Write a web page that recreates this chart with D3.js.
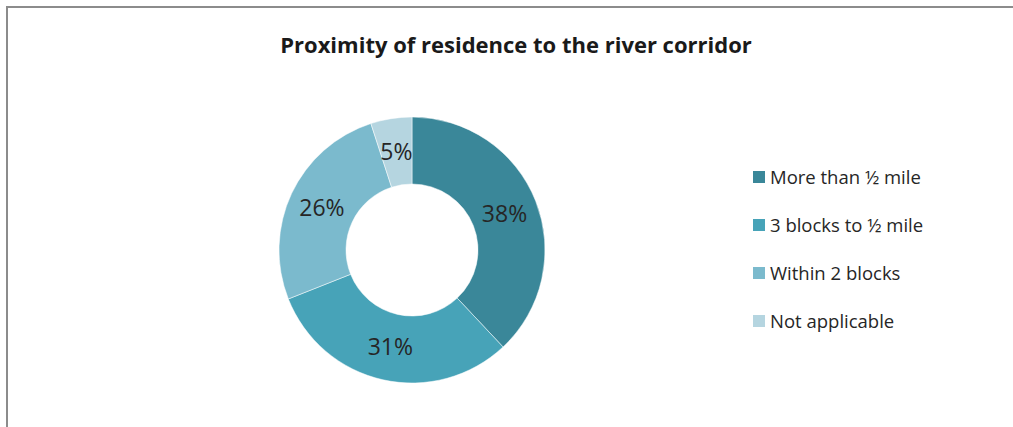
<!DOCTYPE html>
<html>
<head>
<meta charset="utf-8">
<script src="https://cdn.jsdelivr.net/npm/d3@7"></script>
<style>
  body { margin: 0; background: #fff; }
  svg text { font-family: "Open Sans", sans-serif; }
</style>
</head>
<body>
<div id="chart"></div>
<script>
const categories = ["More than ½ mile", "3 blocks to ½ mile", "Within 2 blocks", "Not applicable"];
const values = [38, 31, 26, 5];
const colors = ["#3a8799", "#47a3b8", "#7bbacd", "#b5d5e0"];

const W = 1013, H = 427;

const svg = d3.select("#chart")
  .append("svg")
  .attr("width", W)
  .attr("height", H);

// chart frame (runs off the right and bottom edges)
svg.append("rect")
  .attr("x", 7)
  .attr("y", 7)
  .attr("width", W + 20)
  .attr("height", H + 20)
  .attr("fill", "none")
  .attr("stroke", "#8c8c8c")
  .attr("stroke-width", 2);

// title
svg.append("text")
  .attr("x", 516)
  .attr("y", 53)
  .attr("text-anchor", "middle")
  .style("font-size", "22px")
  .style("font-weight", "bold")
  .style("fill", "#1a1a1a")
  .text("Proximity of residence to the river corridor");

// donut
const cx = 412, cy = 250;
const outerR = 133, innerR = 66;

const data = categories.map((c, i) => ({ name: c, value: values[i], color: colors[i] }));

const pie = d3.pie()
  .value(d => d.value)
  .sort(null);

const arc = d3.arc()
  .innerRadius(innerR)
  .outerRadius(outerR);

const g = svg.append("g")
  .attr("transform", `translate(${cx},${cy})`);

const arcs = pie(data);

g.selectAll(".slice")
  .data(arcs)
  .enter()
  .append("path")
  .attr("class", "slice")
  .attr("d", arc)
  .attr("fill", d => d.data.color)
  .attr("stroke", "#ffffff")
  .attr("stroke-width", 0.5);

g.selectAll(".pct")
  .data(arcs)
  .enter()
  .append("text")
  .attr("class", "pct")
  .attr("transform", d => `translate(${arc.centroid(d)})`)
  .attr("text-anchor", "middle")
  .attr("dy", "0.36em")
  .style("font-size", "23px")
  .style("fill", "#262626")
  .text(d => d.data.value + "%");

// legend
const legend = svg.append("g")
  .attr("transform", "translate(753,177)");

const item = legend.selectAll(".item")
  .data(data)
  .enter()
  .append("g")
  .attr("class", "item")
  .attr("transform", (d, i) => `translate(0,${i * 48})`);

item.append("rect")
  .attr("x", 0)
  .attr("y", -6)
  .attr("width", 12)
  .attr("height", 12)
  .attr("fill", d => d.color);

item.append("text")
  .attr("x", 17)
  .attr("y", 0)
  .attr("dy", "0.36em")
  .style("font-size", "18.5px")
  .style("fill", "#262626")
  .text(d => d.name);
</script>
</body>
</html>
